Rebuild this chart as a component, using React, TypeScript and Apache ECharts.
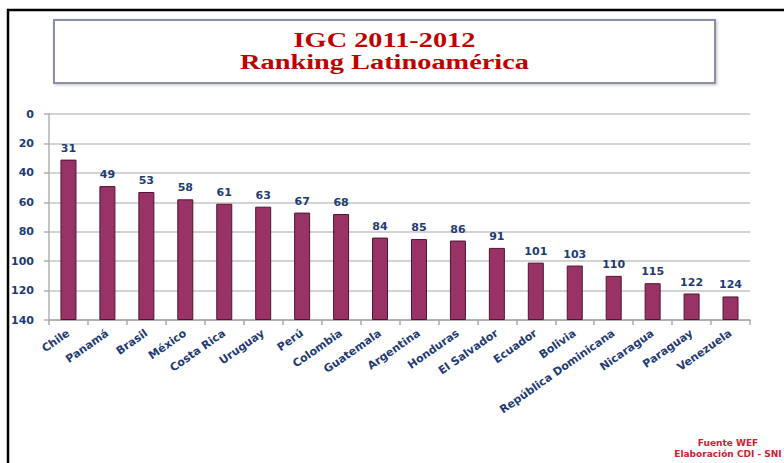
import React, { useEffect, useRef } from "react";
import * as echarts from "echarts";

const categories = [
  "Chile", "Panamá", "Brasil", "México", "Costa Rica", "Uruguay", "Perú",
  "Colombia", "Guatemala", "Argentina", "Honduras", "El Salvador", "Ecuador",
  "Bolivia", "República Dominicana", "Nicaragua", "Paraguay", "Venezuela",
];
const rankings = [31, 49, 53, 58, 61, 63, 67, 68, 84, 85, 86, 91, 101, 103, 110, 115, 122, 124];
const axisMin = 0;
const axisMax = 140;
const axisInterval = 20;
const titleLines = ["IGC 2011-2012", "Ranking Latinoamérica"];
const footerLines = ["Fuente WEF", "Elaboración CDI - SNI"];

const NAVY = "#1f3b73";
const BAR = "#993366";
const RED = "#c00000";

export default function App() {
  const ref = useRef<HTMLDivElement>(null);
  useEffect(() => {
    if (!ref.current) return;
    const chart = echarts.init(ref.current, null, { renderer: "svg" });
    const labelFont = { fontFamily: "DejaVu Sans", fontWeight: "bold" as const, fontSize: 11, color: NAVY };
    chart.setOption({
      animation: false,
      backgroundColor: "#ffffff",
      grid: { left: 49, right: 34, top: 114, bottom: 143, containLabel: false },
      xAxis: {
        type: "category",
        data: categories,
        position: "bottom",
        axisLine: { onZero: false, lineStyle: { color: "#a8a8a8", width: 1.5 } },
        axisTick: { show: true, length: 5, lineStyle: { color: "#a8a8a8", width: 1.5 } },
        axisLabel: { interval: 0, rotate: 35, margin: 12, ...labelFont },
      },
      yAxis: {
        type: "value",
        inverse: true,
        min: axisMin,
        max: axisMax,
        interval: axisInterval,
        axisLine: { show: true, lineStyle: { color: "#b0b0b0", width: 1.5 } },
        axisTick: { show: true, length: 5, lineStyle: { color: "#b0b0b0", width: 1.5 } },
        axisLabel: { margin: 15, ...labelFont },
        splitLine: { show: true, lineStyle: { color: "#c4c4c4", width: 1.5 } },
      },
      series: [
        {
          type: "bar",
          stack: "rank",
          barWidth: 16,
          silent: true,
          itemStyle: { color: "rgba(0,0,0,0)" },
          data: rankings,
        },
        {
          type: "bar",
          stack: "rank",
          barWidth: 16,
          itemStyle: { color: BAR, borderColor: "#4e1530", borderWidth: 1 },
          label: {
            show: true,
            position: "top",
            distance: 6,
            formatter: (p: any) => String(rankings[p.dataIndex]),
            ...labelFont,
          },
          data: rankings.map((v) => axisMax - v),
        },
      ],
      graphic: [
        {
          type: "rect",
          silent: true,
          z: 100,
          shape: { x: 8, y: 10, width: 800, height: 480 },
          style: { fill: "none", stroke: "#000000", lineWidth: 2.5 },
        },
        {
          type: "rect",
          silent: true,
          shape: { x: 54, y: 20, width: 661, height: 63 },
          style: {
            fill: "#ffffff",
            stroke: "#8a8fa3",
            lineWidth: 2,
            shadowBlur: 3,
            shadowColor: "rgba(0,0,0,0.25)",
            shadowOffsetX: 1,
            shadowOffsetY: 1,
          },
        },
        {
          type: "text",
          silent: true,
          x: 384.5,
          y: 40,
          scaleX: 1.35,
          style: {
            text: titleLines[0],
            x: 0,
            y: 0,
            textAlign: "center",
            textVerticalAlign: "middle",
            font: 'bold 21px "Liberation Serif"',
            fill: RED,
          },
        },
        {
          type: "text",
          silent: true,
          x: 384.5,
          y: 62,
          scaleX: 1.35,
          style: {
            text: titleLines[1],
            x: 0,
            y: 0,
            textAlign: "center",
            textVerticalAlign: "middle",
            font: 'bold 21px "Liberation Serif"',
            fill: RED,
          },
        },
        {
          type: "text",
          silent: true,
          x: 728,
          y: 443,
          style: {
            text: footerLines[0],
            x: 0,
            y: 0,
            textAlign: "center",
            textVerticalAlign: "middle",
            font: 'bold 9px "DejaVu Sans"',
            fill: "#cc2233",
          },
        },
        {
          type: "text",
          silent: true,
          x: 728,
          y: 454,
          style: {
            text: footerLines[1],
            x: 0,
            y: 0,
            textAlign: "center",
            textVerticalAlign: "middle",
            font: 'bold 9px "DejaVu Sans"',
            fill: "#cc2233",
          },
        },
      ],
    });
    return () => chart.dispose();
  }, []);
  return (
    <div
      ref={ref}
      style={{ position: "fixed", left: 0, top: 0, width: 784, height: 463 }}
    />
  );
}
